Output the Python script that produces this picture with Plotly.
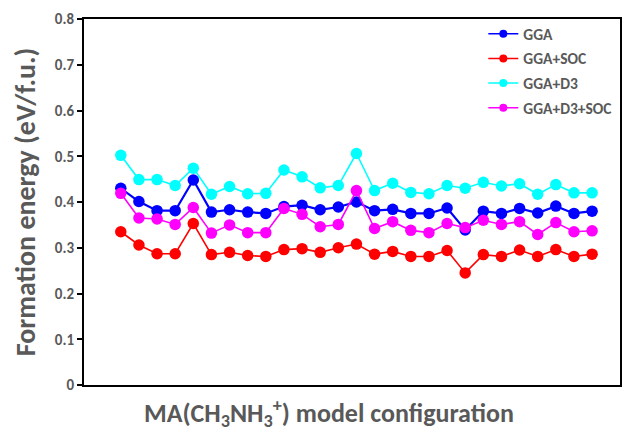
import plotly.graph_objects as go

config = list(range(1, 28))
gga = [0.430, 0.401, 0.381, 0.381, 0.448, 0.378, 0.383, 0.378, 0.375, 0.390, 0.393, 0.383, 0.389,
       0.400, 0.381, 0.384, 0.375, 0.375, 0.387, 0.339, 0.380, 0.375, 0.386, 0.376, 0.391, 0.375, 0.380]
gga_soc = [0.335, 0.306, 0.287, 0.287, 0.353, 0.285, 0.290, 0.283, 0.281, 0.296, 0.298, 0.290, 0.300,
           0.308, 0.286, 0.292, 0.281, 0.281, 0.294, 0.245, 0.285, 0.281, 0.295, 0.281, 0.296, 0.281, 0.286]
gga_d3 = [0.502, 0.449, 0.449, 0.436, 0.474, 0.417, 0.434, 0.418, 0.419, 0.470, 0.455, 0.431, 0.436,
          0.506, 0.425, 0.441, 0.421, 0.418, 0.436, 0.430, 0.443, 0.435, 0.440, 0.417, 0.438, 0.420, 0.420]
gga_d3_soc = [0.419, 0.365, 0.363, 0.351, 0.388, 0.332, 0.350, 0.333, 0.333, 0.386, 0.373, 0.346, 0.351,
              0.425, 0.342, 0.357, 0.338, 0.333, 0.353, 0.344, 0.360, 0.351, 0.357, 0.329, 0.355, 0.335, 0.337]

series = [("GGA", gga, "#0000FF", 2.2), ("GGA+SOC", gga_soc, "#FF0000", 1.6),
          ("GGA+D3", gga_d3, "#00FFFF", 1.6), ("GGA+D3+SOC", gga_d3_soc, "#FF00FF", 1.6)]
y_ticks = [0, 0.1, 0.2, 0.3, 0.4, 0.5, 0.6, 0.7, 0.8]
y_tick_text = ["0", "0.1", "0.2", "0.3", "0.4", "0.5", "0.6", "0.7", "0.8"]
x_title = "MA(CH<sub>3</sub>NH<sub>3</sub><sup>+</sup>) model configuration"
y_title = "Formation energy (eV/f.u.)"

FONT = "Carlito, Calibri, Lato"
GRAY = "#595959"

fig = go.Figure()
for name, vals, color, lw in series:
    fig.add_trace(go.Scatter(x=config, y=vals, name=name, mode="lines+markers",
                             line=dict(color=color, width=lw),
                             marker=dict(color=color, size=11.5),
                             showlegend=False))
# legend entries with smaller symbols, as in the reference
for name, vals, color, lw in series:
    fig.add_trace(go.Scatter(x=[None], y=[None], name=name, mode="lines+markers",
                             line=dict(color=color, width=1.5),
                             marker=dict(color=color, size=8),
                             legendgroup=name, showlegend=True))

fig.add_annotation(text=x_title, xref="paper", yref="paper", x=0.457, y=0,
                   xanchor="center", yanchor="top", yshift=-7, showarrow=False,
                   font=dict(family=FONT, size=26, color=GRAY, weight="bold"))

fig.update_layout(
    width=632, height=433,
    margin=dict(l=84, r=10, t=15, b=48),
    paper_bgcolor="white", plot_bgcolor="white",
    font=dict(family=FONT, color=GRAY),
    showlegend=True,
    legend=dict(x=0.745, xanchor="left", y=1.005, yanchor="top",
                bgcolor="rgba(0,0,0,0)", tracegroupgap=1.5,
                font=dict(family=FONT, size=15.5, color=GRAY, weight="bold"),
                itemwidth=30),
    xaxis=dict(range=[-1.03, 28.54], showticklabels=False, ticks="",
               showgrid=False, zeroline=False,
               showline=True, linecolor="black", linewidth=2, mirror=True),
    yaxis=dict(range=[0, 0.8], tickvals=y_ticks, ticktext=y_tick_text,
               ticks="outside", ticklen=5, tickwidth=2, tickcolor="black",
               tickfont=dict(family=FONT, size=15, color=GRAY, weight="bold"),
               showgrid=False, zeroline=False,
               showline=True, linecolor="black", linewidth=2, mirror=True,
               title=dict(text=y_title,
                          font=dict(family=FONT, size=28, color=GRAY, weight="bold"),
                          standoff=11)),
)

fig.write_html("out.html")
